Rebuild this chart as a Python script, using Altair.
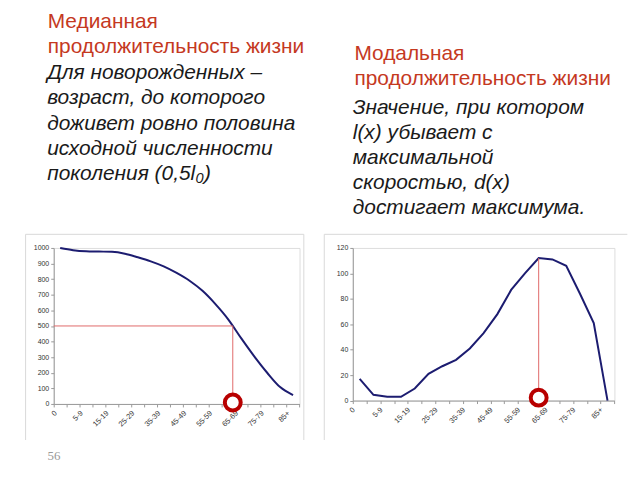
import json
import altair as alt
import pandas as pd

# ---------------- data ----------------
age_groups = ["0", "1-4", "5-9", "10-14", "15-19", "20-24", "25-29", "30-34",
              "35-39", "40-44", "45-49", "50-54", "55-59", "60-64", "65-69",
              "70-74", "75-79", "80-84", "85+"]
lx = [1000, 986, 979, 977, 975, 963, 940, 914, 882, 840, 790, 725, 640, 541,
      420, 305, 200, 108, 57]
dx = [17, 4.5, 3, 3, 9.5, 21, 27, 32, 41, 53, 68, 87, 100, 112, 111, 106, 84,
      61, 0]

median_x = 13.34      # index where l(x) = 0.5 l0
median_level = 500
mode_x = 13           # index where d(x) is maximal
mode_value = 112
marker_left_y = 9
marker_right_y = 2.3

title_left = ["Медианная", "продолжительность жизни"]
body_left = ["Для новорожденных –", "возраст, до которого",
             "доживет ровно половина", "исходной численности",
             "поколения (0,5l\u2080)"]
title_right = ["Модальная", "продолжительность жизни"]
body_right = ["Значение, при котором", "l(x) убывает с", "максимальной",
              "скоростью, d(x)", "достигает максимума."]
page_number = "56"

# ---------------- styles ----------------
RED_TITLE = "#c5391f"
LINE = "#1c1c70"
GUIDE = "#e06a6a"
RING = "#b80000"
BORDER = "#d9d9d9"
FONT = "Liberation Sans"

labels_js = json.dumps(age_groups, ensure_ascii=False)
x_ticks = [k - 0.5 for k in range(len(age_groups) + 1)]
label_expr = ("(datum.value + 0.5) % 2 == 0 && datum.value < 18 ? "
              + labels_js + "[datum.value + 0.5] : ''")


def x_enc(offset):
    return alt.X("i:Q",
                 scale=alt.Scale(domain=[-0.5, 18.5], nice=False, zero=False),
                 axis=alt.Axis(values=x_ticks, labelExpr=label_expr,
                               labelAngle=-45, labelOffset=offset,
                               labelFontSize=7.5, labelColor="#333",
                               labelFont=FONT, labelPadding=2,
                               tickSize=3, tickColor="#999",
                               domainColor="#999", grid=False, title=None,
                               labelOverlap=False, labelFlush=False,
                               labelBound=False))


def y_enc(field, ymax, step):
    return alt.Y(field + ":Q",
                 scale=alt.Scale(domain=[0, ymax], nice=False, zero=True),
                 axis=alt.Axis(values=list(range(0, ymax + 1, step)),
                               format="d",
                               labelFontSize=7, labelColor="#333",
                               labelFont=FONT, labelPadding=2,
                               tickSize=3, tickColor="#999",
                               domainColor="#999", grid=False, title=None,
                               labelOverlap=False, labelFlush=False,
                               labelBound=False))


def text_layer(lines, x, y, size, color, italic, lh):
    df = pd.DataFrame({"t": [lines]})
    return alt.Chart(df).mark_text(
        align="left", baseline="alphabetic", font=FONT, fontSize=size,
        color=color, fontStyle="italic" if italic else "normal",
        lineHeight=lh,
    ).encode(x=alt.value(x), y=alt.value(y), text="t")


def box(x0, x1, y0, y1):
    return alt.Chart(pd.DataFrame({"a": [0]})).mark_rect(
        fill="white", opacity=0).encode(
        x=alt.value(x0), x2=alt.value(x1), y=alt.value(y0), y2=alt.value(y1))


def rule_px(x0, x1, y0, y1):
    return alt.Chart(pd.DataFrame({"a": [0]})).mark_rule(
        color=BORDER, strokeWidth=1).encode(
        x=alt.value(x0), x2=alt.value(x1), y=alt.value(y0), y2=alt.value(y1))


# page geometry of plot areas
LW, LH = 247.4, 157.0     # left plot: page x 53.3, y 246.7
RW, RH = 263.3, 153.6     # right plot: page x 351.7, y 246.7
LX0, RX0, Y0 = 53.3, 351.7, 246.7
LOFF, ROFF = -1, -2

# ---------------- left panel ----------------
df_l = pd.DataFrame({"i": list(range(len(age_groups))), "v": lx})
line_l = alt.Chart(df_l).mark_line(color=LINE, strokeWidth=2,
                                   interpolate="monotone").encode(
    x=x_enc(LOFF), y=y_enc("v", 1000, 100))
guide_h = alt.Chart(pd.DataFrame({"i": [-0.5], "i2": [median_x],
                                  "v": [median_level]})).mark_rule(
    color=GUIDE, strokeWidth=1).encode(
    x=x_enc(LOFF), x2="i2:Q", y=y_enc("v", 1000, 100))
guide_v = alt.Chart(pd.DataFrame({"i": [median_x], "v": [0],
                                  "v2": [median_level]})).mark_rule(
    color=GUIDE, strokeWidth=1).encode(
    x=x_enc(LOFF), y=y_enc("v", 1000, 100), y2="v2:Q")
ring_l = alt.Chart(pd.DataFrame({"i": [median_x], "v": [marker_left_y]})).mark_point(
    shape="circle", filled=True, fill="white", stroke=RING, strokeWidth=4,
    size=256, opacity=1).encode(
    x=x_enc(LOFF), y=y_enc("v", 1000, 100))

left = alt.layer(
    box(8 - LX0, 316 - LX0, 8 - Y0, 472 - Y0),
    rule_px(25 - LX0, 25 - LX0, 233 - Y0, 440 - Y0),
    rule_px(25 - LX0, 305 - LX0, 233 - Y0, 233 - Y0),
    rule_px(305 - LX0, 305 - LX0, 233 - Y0, 440 - Y0),
    text_layer(title_left, 47.3 - LX0, 25 - Y0, 21, RED_TITLE, False, 26),
    text_layer(body_left, 46.7 - LX0, 77 - Y0, 21, "#1a1a1a", True, 25.3),
    alt.Chart(pd.DataFrame({"t": [page_number]})).mark_text(
        align="left", baseline="alphabetic", font="Liberation Serif",
        fontSize=13, color="#999").encode(
        x=alt.value(47 - LX0), y=alt.value(460 - Y0), text="t"),
    line_l, guide_h, guide_v, ring_l,
).properties(width=LW, height=LH)

# ---------------- right panel ----------------
df_r = pd.DataFrame({"i": list(range(len(age_groups))), "v": dx})
line_r = alt.Chart(df_r).mark_line(color=LINE, strokeWidth=2).encode(
    x=x_enc(ROFF), y=y_enc("v", 120, 20))
guide_r = alt.Chart(pd.DataFrame({"i": [mode_x], "v": [0],
                                  "v2": [mode_value]})).mark_rule(
    color=GUIDE, strokeWidth=1).encode(
    x=x_enc(ROFF), y=y_enc("v", 120, 20), y2="v2:Q")
ring_r = alt.Chart(pd.DataFrame({"i": [mode_x], "v": [marker_right_y]})).mark_point(
    shape="circle", filled=True, fill="white", stroke=RING, strokeWidth=4,
    size=256, opacity=1).encode(
    x=x_enc(ROFF), y=y_enc("v", 120, 20))

right = alt.layer(
    box(316 - RX0, 632 - RX0, 8 - Y0, 472 - Y0),
    rule_px(323 - RX0, 323 - RX0, 233 - Y0, 440 - Y0),
    rule_px(323 - RX0, 628 - RX0, 233 - Y0, 233 - Y0),
    text_layer(title_right, 353.3 - RX0, 57.5 - Y0, 21, RED_TITLE, False, 25.3),
    text_layer(body_right, 351.7 - RX0, 111.5 - Y0, 21, "#1a1a1a", True, 25.3),
    line_r, guide_r, ring_r,
).properties(width=RW, height=RH)

chart = alt.hconcat(left, right, spacing=0).properties(
    padding=0, background="white"
).configure_view(stroke="#c8c8c8", strokeWidth=1).configure(font=FONT)

chart.save("out.html", embed_options={"renderer": "svg", "actions": False})
